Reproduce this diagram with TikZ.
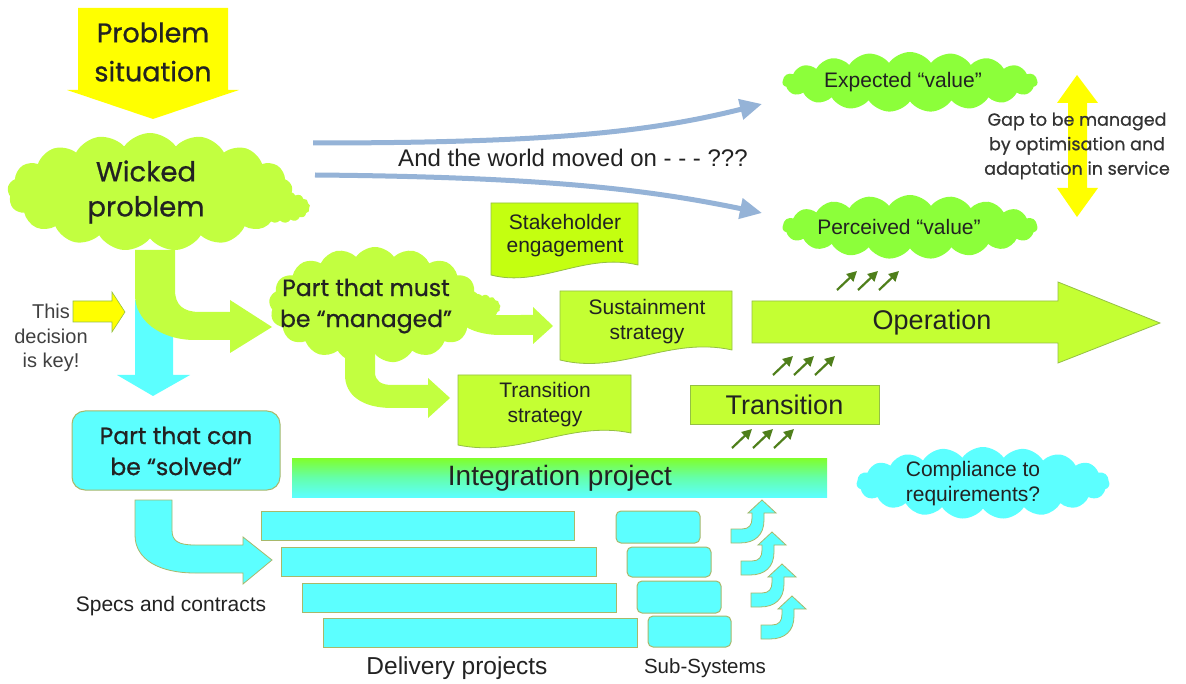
\documentclass[tikz,border=0pt]{standalone}
\usepackage{fontspec}
\setmainfont{Liberation Sans}
\newfontfamily\comic{Poppins}[FakeBold=0.7]
\usetikzlibrary{shapes.symbols,arrows.meta}
\definecolor{lgreen}{HTML}{C2FF40}
\definecolor{bgreen}{HTML}{8CFF3A}
\definecolor{limeG}{HTML}{C4FF10}
\definecolor{opgreen}{HTML}{C4FF33}
\definecolor{cyanF}{HTML}{5CFFFF}
\definecolor{yel}{HTML}{FFFF00}
\definecolor{blueA}{HTML}{95B3D7}
\definecolor{dgreen}{HTML}{4F7F1B}
\definecolor{olivE}{HTML}{A8B86A}
\definecolor{gborder}{HTML}{94C044}
\definecolor{txt}{HTML}{222222}
\begin{document}
\begin{tikzpicture}[x=1pt,y=-1pt,
  lbl/.style={font=\fontsize{21}{25}\selectfont, text=txt, align=center, inner sep=0pt},
  clbl/.style={font=\comic\fontsize{23.5}{31}\selectfont, text=txt, align=center, inner sep=0pt},
  cloudbox/.style={cloud, cloud puffs=17, cloud puff arc=110, cloud ignores aspect, draw=none, inner sep=0pt},
  docbox/.style={fill=opgreen, draw=gborder, line width=0.8pt},
  cyanbar/.style={fill=cyanF, draw=olivE, line width=1pt},
  cyanarrow/.style={fill=cyanF, draw=olivE, line width=0.8pt},
  greenarrow/.style={fill=lgreen, draw=none},
  bluearrow/.style={draw=blueA, line width=5pt, -{Triangle[length=22pt,width=20pt]}},
  tinyarrow/.style={draw=dgreen, line width=2.2pt, -{Triangle[length=10pt,width=10pt]}},
]
\path[use as bounding box, fill=white] (0,0) rectangle (1186,684);

% Problem situation arrow
\fill[yel] (78,8) -- (228,8) -- (228,90) -- (239,90) -- (153,119) -- (67,90) -- (78,90) -- cycle;
\node[clbl, font=\comic\fontsize{27}{39}\selectfont] (ps) at (153,52) {Problem\\situation};

% cyan down arrow (behind green bent arrow)
\fill[cyanF] (135,300) -- (173,300) -- (173,375) -- (190,375) -- (153,396) -- (117,375) -- (135,375) -- cycle;
% green bent arrow from wicked problem
\fill[greenarrow] (135,250) -- (175,250) -- (175,290) .. controls (175,305) and (183,312) .. (200,312) -- (230,312) -- (230,300) -- (272,327) -- (230,353) -- (230,340) -- (195,340) .. controls (160,340) and (135,320) .. (135,295) -- cycle;

% Wicked problem cloud
\node[cloudbox, fill=lgreen, minimum width=60pt, minimum height=32pt] (wtail) at (280,207) {};
\node[cloudbox, fill=lgreen, minimum width=285pt, minimum height=118pt] (wicked) at (150,192) {};
\node[clbl, font=\comic\fontsize{27.5}{35}\selectfont] (wtext) at (146,192) {Wicked\\problem};

% This decision is key
\fill[yel, draw=gborder, line width=0.6pt] (73,301) -- (112,301) -- (112,292) -- (125,312) -- (112,332) -- (112,322) -- (73,322) -- cycle;
\node[lbl, font=\fontsize{20}{24.5}\selectfont, text=black!75] (key) at (51,338) {This\\decision\\is key!};

% blue arrows
\coordinate (b1s) at (313,143);
\coordinate (b1e) at (762,104);
\coordinate (b2s) at (315,175);
\coordinate (b2e) at (762,213);
\draw[bluearrow] (b1s) .. controls (550,143) and (650,132) .. (b1e);
\draw[bluearrow] (b2s) .. controls (550,177) and (650,190) .. (b2e);
\node[lbl, font=\fontsize{24}{28}\selectfont] (world) at (573,158) {And the world moved on - - - ???};

% Expected / perceived value clouds
\node[cloudbox, fill=bgreen, cloud puffs=19, minimum width=255pt, minimum height=60pt] (exp) at (910,82) {};
\node[lbl] (expt) at (903,82) {Expected “value”};
\node[cloudbox, fill=bgreen, cloud puffs=19, minimum width=255pt, minimum height=64pt] (perc) at (910,227) {};
\node[lbl] (perct) at (899,227) {Perceived “value”};

% Gap double arrow
\fill[yel] (1077,75) -- (1098,103) -- (1087,103) -- (1087,188) -- (1098,188) -- (1077,217) -- (1057,188) -- (1068,188) -- (1068,103) -- (1057,103) -- cycle;
\node[clbl, font=\comic\fontsize{17.5}{24.5}\selectfont, text=black!80] (gap) at (1077,146) {Gap to be managed\\by optimisation and\\adaptation in service};

% Stakeholder engagement
\filldraw[docbox, fill=limeG] (491,203) -- (638,203) -- (638,265) .. controls (585,252) and (540,288) .. (491,275) -- cycle;
\node[lbl, font=\fontsize{21}{23}\selectfont] (stake) at (565,236) {Stakeholder\\engagement};

% green arrows from "managed" cloud
\fill[greenarrow] (468,316) .. controls (490,315) .. (533,315) -- (533,307) -- (553,326) -- (533,344) -- (533,335) -- (500,335) .. controls (485,335) and (470,331) .. (462,324) -- cycle;
\fill[greenarrow] (345,350) -- (375,350) -- (375,372) .. controls (375,381) and (381,385) .. (392,385) -- (428,385) -- (428,378) -- (450,398) -- (428,418) -- (428,408) -- (392,408) .. controls (362,408) and (345,395) .. (345,375) -- cycle;

% Part that must be managed cloud
\node[cloudbox, fill=lgreen, minimum width=45pt, minimum height=26pt] (mtail) at (478,307) {};
\node[cloudbox, fill=lgreen, minimum width=212pt, minimum height=116pt] (managed) at (375,305) {};
\node[clbl] (mtext) at (366,306) {Part that must\\be “managed”};

% Sustainment strategy
\filldraw[docbox] (560,291) -- (732,291) -- (732,350) .. controls (670,336) and (620,375) .. (560,360) -- cycle;
\node[lbl] (sust) at (647,322) {Sustainment\\strategy};
% Transition strategy
\filldraw[docbox] (458,375) -- (631,375) -- (631,433) .. controls (570,420) and (520,458) .. (458,445) -- cycle;
\node[lbl] (tstrat) at (545,405) {Transition\\strategy};

% Operation arrow
\filldraw[docbox] (752,301) -- (1058,301) -- (1058,282) -- (1160,323) -- (1058,363) -- (1058,343) -- (752,343) -- cycle;
\node[lbl, font=\fontsize{27}{30}\selectfont] (op) at (932,323) {Operation};

% Transition box
\node[docbox, minimum width=189pt, minimum height=39pt, inner sep=0pt, font=\fontsize{27}{30}\selectfont, text=txt] (trans) at (784.5,404.5) {Transition};

% tiny arrows
\foreach \x/\y in {837/290,773/375,732/448}
  \foreach \k in {0,1,2}
    \draw[tinyarrow] (\x+21*\k,\y) -- ++(20,-19);

% Integration project bar
\shade[top color={rgb,255:red,128;green,255;blue,42}, bottom color=cyanF, middle color={rgb,255:red,100;green,255;blue,170}] (292,458) rectangle (827,497);
\node[lbl, font=\fontsize{28}{30}\selectfont] (integ) at (560,478) {Integration project};

% Compliance cloud
\node[cloudbox, fill=cyanF, cloud puffs=19, minimum width=253pt, minimum height=72pt] (comp) at (983,483) {};
\node[lbl] (compt) at (973,484) {Compliance to\\requirements?};

% Part that can be solved
\node[fill=cyanF, draw=olivE, line width=1pt, rounded corners=13pt, minimum width=208pt, minimum height=79pt, inner sep=0pt] (solved) at (176,450.5) {};
\node[clbl] (stext) at (176,451) {Part that can\\be “solved”};

% cyan bent arrow
\filldraw[cyanarrow] (135,500) -- (172,500) -- (172,530) .. controls (172,541) and (178,545) .. (195,545) -- (243,545) -- (243,537) -- (272,560) -- (243,584) -- (243,573) -- (195,573) .. controls (160,573) and (135,560) .. (135,535) -- cycle;
\node[lbl] (specs) at (171,606) {Specs and contracts};

% delivery bars
\draw[cyanbar] (261,511) rectangle (574,540);
\draw[cyanbar] (281,547) rectangle (596,576);
\draw[cyanbar] (302,583) rectangle (616,612);
\draw[cyanbar] (323,618) rectangle (637,647);
\node[lbl, font=\fontsize{24.5}{28}\selectfont] (deliv) at (457,668) {Delivery projects};

% sub-systems
\draw[cyanbar, rounded corners=5pt] (616,511) rectangle (700,543);
\draw[cyanbar, rounded corners=5pt] (627,547) rectangle (711,577);
\draw[cyanbar, rounded corners=5pt] (637,581) rectangle (721,613);
\draw[cyanbar, rounded corners=5pt] (648,616) rectangle (731,647);
\node[lbl, font=\fontsize{20.5}{24}\selectfont] (subs) at (705,668) {Sub-Systems};

% curved up arrows
\foreach \i in {0,1,2,3}
  \filldraw[cyanarrow, shift={(10*\i,32*\i)}] (731,529) -- (742,529) .. controls (749,529) and (752,525) .. (752,518) -- (752,513) -- (748,513) -- (762,500) -- (776,513) -- (764,513) -- (764,520) .. controls (764,535) and (755,543) .. (740,543) -- (731,543) -- cycle;

\end{tikzpicture}
\end{document}
